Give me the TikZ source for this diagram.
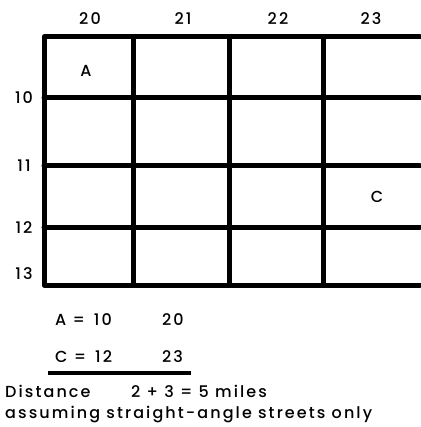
\documentclass[tikz,border=0pt]{standalone}
\usepackage{fontspec}
\setmainfont{Poppins}[UprightFont={* Medium},LetterSpace=13]
\tikzset{
  street/.style={line width=5pt,line cap=round},
  lbl/.style={inner sep=0pt,font=\fontsize{16}{18}\selectfont},
  txt/.style={lbl,anchor=base west}
}
\newcommand{\eqgap}[2]{#1\hspace{0.4em}=\hspace{0.55em}#2}
\begin{document}
\begin{tikzpicture}[x=1pt,y=-1pt,line join=round]
\path[use as bounding box] (0,0) rectangle (420,427);
% streets
\draw[street] (420,37) -- (44,37) -- (44,285) -- (420,285);
\foreach \y in {98,166,227}
  \draw[street] (44,\y) -- (420,\y);
\foreach \x in {133,229,323}
  \draw[street] (\x,37) -- (\x,285);
% avenue numbers
\foreach \x/\n in {90/20,183/21,278/22,371/23}
  \node[lbl] (col\n) at (\x,19) {\n};
\foreach \y/\n in {98/10,166/11,228/12,274/13}
  \node[lbl] (row\n) at (24,\y) {\n};
% points
\node[lbl] (ptA) at (86,71) {A};
\node[lbl] (ptC) at (377,197) {C};
% working
\node[txt] (eqA) at (55,325) {\eqgap{A}{10}};
\node[txt] (avA) at (162,325) {20};
\node[txt] (eqC) at (55,362) {\eqgap{C}{12}};
\node[txt] (avC) at (162,362) {23};
\draw[line width=4pt] (48,373) -- (191,373);
\node[txt] (dist) at (5,397) {Distance};
\node[txt] (sum) at (131,397) {2 + 3 = 5 miles};
\node[txt] (note) at (5,418) {assuming straight-angle streets only};
\end{tikzpicture}
\end{document}
